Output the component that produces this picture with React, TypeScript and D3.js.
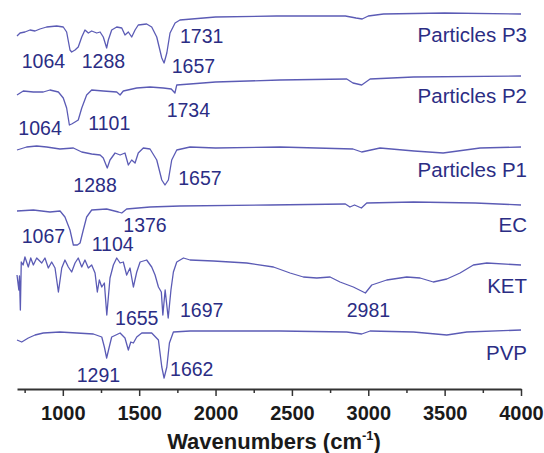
import React, { useEffect, useRef } from 'react';
import * as d3 from 'd3';

// [wavenumber (cm-1), stacked transmittance (a.u.)]
const p3Spectrum: [number, number][] = [
  [700, 354], [720, 357], [752, 358], [785, 360], [818, 359], [850, 361], [894, 363], [960, 364],
  [1003, 363], [1025, 358], [1047, 340], [1058, 338], [1080, 340], [1101, 343], [1124, 353],
  [1145, 360], [1167, 357], [1189, 359], [1222, 357], [1244, 358], [1265, 353], [1287, 342],
  [1298, 350], [1320, 360], [1353, 363], [1386, 362], [1407, 355], [1429, 358], [1451, 353],
  [1473, 360], [1494, 365], [1549, 366], [1582, 363], [1615, 353], [1648, 332], [1663, 327],
  [1681, 337], [1702, 357], [1735, 367], [1767, 370], [2000, 373], [2400, 374], [2850, 374],
  [2920, 372], [2960, 371], [3000, 374], [3100, 376], [3500, 377], [4000, 376],
];

const p2Spectrum: [number, number][] = [
  [700, 295], [741, 299], [807, 298], [872, 298], [916, 300], [971, 298], [1003, 292], [1025, 282],
  [1043, 265], [1058, 266], [1080, 268], [1101, 270], [1124, 282], [1156, 295], [1189, 300],
  [1265, 299], [1353, 298], [1375, 295], [1396, 299], [1484, 302], [1571, 303], [1658, 302],
  [1710, 301], [1734, 297], [1746, 305], [1833, 306], [2000, 308], [2422, 310], [2859, 311],
  [2900, 307], [2957, 305], [3012, 311], [3296, 313], [4000, 314],
];

const p1Spectrum: [number, number][] = [
  [700, 240], [763, 243], [829, 244], [894, 243], [981, 241], [1069, 242], [1124, 238], [1189, 236],
  [1244, 235], [1265, 232], [1291, 222], [1309, 230], [1342, 237], [1375, 235], [1407, 237],
  [1429, 225], [1451, 230], [1473, 227], [1494, 237], [1527, 242], [1571, 241], [1615, 230],
  [1648, 210], [1669, 205], [1691, 210], [1713, 230], [1746, 240], [1833, 243], [2000, 242],
  [2422, 243], [2900, 241], [2957, 238], [3077, 242], [3300, 239], [3490, 237], [3732, 242],
  [4000, 243],
];

const ecSpectrum: [number, number][] = [
  [700, 179], [807, 180], [916, 178], [982, 179], [1014, 173], [1047, 160], [1069, 145], [1095, 145],
  [1113, 147], [1134, 160], [1156, 173], [1189, 180], [1287, 181], [1364, 178], [1386, 177],
  [1418, 181], [1571, 183], [1767, 184], [2357, 185], [2850, 186], [2880, 183], [2910, 185],
  [2955, 182], [2990, 187], [3296, 188], [3700, 187], [4000, 185],
];

const ketSpectrum: [number, number][] = [
  [700, 115], [712, 100], [716, 114], [722, 80], [728, 128], [740, 125], [752, 133], [774, 123],
  [790, 132], [807, 125], [829, 132], [862, 127], [883, 132], [905, 122], [927, 128], [949, 122],
  [971, 98], [993, 122], [1014, 130], [1036, 123], [1058, 118], [1080, 127], [1101, 132],
  [1124, 123], [1145, 130], [1167, 122], [1189, 125], [1211, 117], [1226, 98], [1239, 110],
  [1255, 103], [1272, 107], [1288, 75], [1309, 112], [1331, 125], [1353, 132], [1375, 127],
  [1396, 128], [1418, 115], [1440, 122], [1462, 103], [1484, 118], [1506, 128], [1549, 130],
  [1582, 123], [1604, 115], [1626, 103], [1645, 98], [1655, 75], [1670, 100], [1690, 72],
  [1708, 100], [1724, 118], [1746, 128], [1790, 132], [1833, 130], [1986, 129], [2204, 127],
  [2379, 123], [2488, 117], [2575, 113], [2663, 112], [2750, 113], [2815, 108], [2902, 103],
  [2968, 98], [2981, 97], [3023, 105], [3121, 110], [3252, 113], [3339, 112], [3426, 108],
  [3514, 111], [3601, 117], [3688, 125], [3776, 127], [4000, 125],
];

const pvpSpectrum: [number, number][] = [
  [700, 50], [731, 48], [774, 52], [818, 55], [872, 57], [981, 58], [1091, 57], [1200, 56],
  [1255, 53], [1272, 43], [1287, 32], [1304, 43], [1320, 53], [1375, 57], [1407, 52], [1429, 40],
  [1445, 48], [1462, 47], [1484, 53], [1517, 57], [1582, 57], [1626, 50], [1648, 23], [1663, 12],
  [1681, 23], [1698, 47], [1724, 58], [1833, 59], [2422, 59], [2859, 58], [2957, 56], [3012, 59],
  [3296, 58], [3514, 55], [3645, 58], [4000, 60],
];

const spectra = [p3Spectrum, p2Spectrum, p1Spectrum, ecSpectrum, ketSpectrum, pvpSpectrum];

// sample names and where their captions sit (value units)
const sampleNames = ['Particles P3', 'Particles P2', 'Particles P1', 'EC', 'KET', 'PVP'];
const sampleNameLevels = [348, 287, 213, 158, 97, 30];

// peak annotations: [text, wavenumber at text start, value at baseline]
const peakLabels: [string, number, number][] = [
  ['1064', 731, 322], ['1288', 1124, 322], ['1731', 1767, 347], ['1657', 1713, 317],
  ['1064', 709, 255], ['1101', 1167, 260], ['1734', 1680, 273],
  ['1288', 1069, 198], ['1657', 1756, 205],
  ['1067', 731, 147], ['1104', 1189, 139], ['1376', 1396, 158],
  ['1655', 1342, 65], ['1697', 1767, 73], ['2981', 2859, 73],
  ['1291', 1091, 8], ['1662', 1702, 14],
];

const majorTicks = [1000, 1500, 2000, 2500, 3000, 3500, 4000];
const minorTicks = [750, 1250, 1750, 2250, 2750, 3250, 3750];

export default function App() {
  const svgRef = useRef<SVGSVGElement>(null);

  useEffect(() => {
    if (!svgRef.current) return;
    const svg = d3.select(svgRef.current);
    svg.selectAll('*').remove();

    const width = 544;
    const height = 453;
    const axisY = 389;
    const font = '"Liberation Sans", Arial, sans-serif';
    const traceColor = '#5b5bb5';
    const textColor = '#2b2d84';

    const x = d3.scaleLinear().domain([700, 4000]).range([17, 521]);
    const y = d3.scaleLinear().domain([0, 390]).range([390, 0]);

    svg.append('rect').attr('width', width).attr('height', height).attr('fill', '#fff');

    const line = d3.line<[number, number]>()
      .x(d => x(d[0]))
      .y(d => y(d[1]));

    // Spectra
    svg.selectAll('.trace')
      .data(spectra)
      .join('path')
      .attr('class', 'trace')
      .attr('fill', 'none')
      .attr('stroke', traceColor)
      .attr('stroke-width', 1.3)
      .attr('stroke-linejoin', 'round')
      .attr('d', d => line(d));

    // Sample names
    svg.selectAll('.name')
      .data(sampleNames)
      .join('text')
      .attr('class', 'name')
      .attr('x', 527)
      .attr('y', (d, i) => y(sampleNameLevels[i]))
      .attr('text-anchor', 'end')
      .attr('font-family', font)
      .attr('font-size', 20.5)
      .attr('fill', textColor)
      .text(d => d);

    // Peak labels
    svg.selectAll('.peak')
      .data(peakLabels)
      .join('text')
      .attr('class', 'peak')
      .attr('x', d => x(d[1]))
      .attr('y', d => y(d[2]))
      .attr('font-family', font)
      .attr('font-size', 19.5)
      .attr('fill', textColor)
      .text(d => d[0]);

    // X axis
    const axisG = svg.append('g').attr('transform', `translate(0,${axisY})`);
    axisG.call(
      d3.axisBottom(x).tickValues(majorTicks).tickSize(7).tickSizeOuter(0).tickPadding(10)
        .tickFormat(d3.format('d'))
    );
    axisG.append('g').call(
      d3.axisBottom(x).tickValues(minorTicks).tickSize(4).tickSizeOuter(0).tickFormat(() => '')
    ).select('.domain').remove();
    axisG.selectAll('.domain').attr('stroke', '#333').attr('stroke-width', 2);
    axisG.selectAll('.tick line').attr('stroke', '#333').attr('stroke-width', 1.5);
    axisG.selectAll('.tick text')
      .attr('font-family', font)
      .attr('font-size', 20)
      .attr('font-weight', 'bold')
      .attr('fill', '#1a1a1a');

    // Axis title
    const title = svg.append('text')
      .attr('x', 274)
      .attr('y', 449)
      .attr('text-anchor', 'middle')
      .attr('font-family', font)
      .attr('font-size', 22)
      .attr('font-weight', 'bold')
      .attr('fill', '#1a1a1a');
    title.append('tspan').text('Wavenumbers (cm');
    title.append('tspan').attr('font-size', 13).attr('dy', -9).text('-1');
    title.append('tspan').attr('dy', 9).text(')');
  }, []);

  return (
    <svg
      ref={svgRef}
      width={544}
      height={453}
      viewBox="0 0 544 453"
      style={{ position: 'absolute', left: 0, top: 0, display: 'block' }}
    />
  );
}
